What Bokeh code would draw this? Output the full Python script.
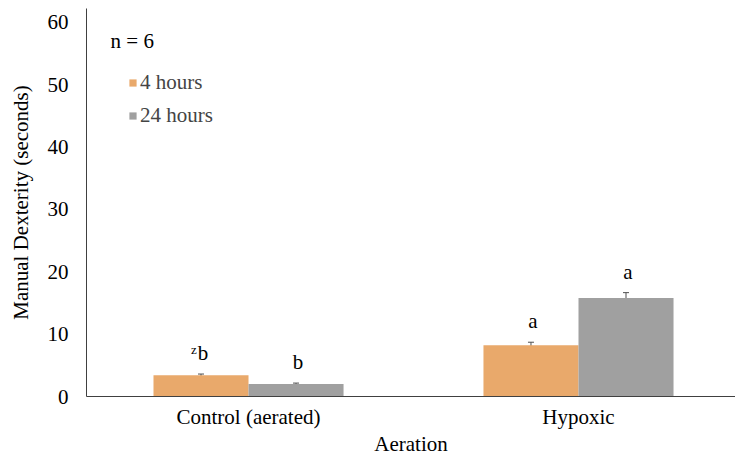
from bokeh.plotting import figure
from bokeh.models import (ColumnDataSource, Whisker, Range1d, FixedTicker, Label,
                          Legend, LegendItem, TeeHead)
from bokeh.embed import file_html
from bokeh.resources import INLINE
from bokeh.core.properties import value

# ---- data ----
categories = ["Control (aerated)", "Hypoxic"]
series = ["4 hours", "24 hours"]
hours4 = [3.4, 8.2]
hours24 = [2.0, 15.8]
err4 = [0.2, 0.5]
err24 = [0.15, 0.85]
letters4 = ["b", "a"]
letters24 = ["b", "a"]
sup4 = ["z", ""]
sup24 = ["", ""]
y_ticks = [0, 10, 20, 30, 40, 50, 60]
note = "n = 6"
y_title = "Manual Dexterity (seconds)"
x_title = "Aeration"

FONT = "Liberation Serif"
ORANGE = "#E9A96B"
GRAY = "#A0A0A0"
BW = 0.288

xc = [i + 1 for i in range(len(categories))]

p = figure(width=735, height=458, output_backend="svg", toolbar_location=None,
           x_range=Range1d(0.509, 2.4758), y_range=Range1d(0, 62.2),
           min_border_left=86, min_border_right=0, min_border_top=8, min_border_bottom=61)
p.outline_line_color = None
p.xgrid.grid_line_color = None
p.ygrid.grid_line_color = None
p.background_fill_color = "white"

def make_src(vals, errs, letters, sups, off):
    return ColumnDataSource(dict(
        x=[c + off for c in xc], top=vals,
        lower=[v - e for v, e in zip(vals, errs)],
        upper=[v + e for v, e in zip(vals, errs)],
        letter=letters, sup=sups))

s4 = make_src(hours4, err4, letters4, sup4, -BW / 2)
s24 = make_src(hours24, err24, letters24, sup24, BW / 2)

r4 = p.vbar(x="x", top="top", width=BW, source=s4, fill_color=ORANGE, line_color=None)
r24 = p.vbar(x="x", top="top", width=BW, source=s24, fill_color=GRAY, line_color=None)

for s in (s4, s24):
    w = Whisker(source=s, base="x", upper="upper", lower="lower",
                line_color="#505050", line_width=1,
                upper_head=TeeHead(size=6, line_color="#505050", line_width=1),
                lower_head=TeeHead(size=6, line_color="#505050", line_width=1))
    p.add_layout(w)
    p.text(x="x", y="upper", text="letter", source=s, text_align="center",
           text_baseline="bottom", y_offset=-9, x_offset=2,
           text_font=value(FONT), text_font_size="21px", text_color="black")
    p.text(x="x", y="upper", text="sup", source=s, text_align="center",
           text_baseline="bottom", y_offset=-17, x_offset=-7,
           text_font=value(FONT), text_font_size="13px", text_color="black")

# axes
p.yaxis.ticker = FixedTicker(ticks=y_ticks)
p.yaxis.axis_label = y_title
p.xaxis.ticker = FixedTicker(ticks=xc)
p.xaxis.major_label_overrides = {c: n for c, n in zip(xc, categories)}
p.xaxis.axis_label = x_title
for ax in (p.xaxis[0], p.yaxis[0]):
    ax.major_tick_line_color = None
    ax.minor_tick_line_color = None
    ax.major_tick_out = 0
    ax.major_tick_in = 0
    ax.minor_tick_out = 0
    ax.axis_line_color = "#404040"
    ax.axis_line_width = 1
    ax.major_label_text_font = FONT
    ax.major_label_text_font_size = "21px"
    ax.major_label_text_color = "black"
    ax.axis_label_text_font = FONT
    ax.axis_label_text_font_size = "21px"
    ax.axis_label_text_font_style = "normal"
    ax.axis_label_text_color = "black"
p.yaxis.major_label_standoff = 18
p.yaxis.axis_label_standoff = 12
p.xaxis.major_label_standoff = 8
p.xaxis.axis_label_standoff = 0

# note
p.add_layout(Label(x=0.582, y=57, text=note, text_baseline="middle",
                   text_font=FONT, text_font_size="21px", text_color="black"))

legend = Legend(items=[LegendItem(label=series[0], renderers=[r4]),
                       LegendItem(label=series[1], renderers=[r24])],
                location=(42, 268), orientation="vertical",
                glyph_width=9, glyph_height=9, label_standoff=3,
                label_text_font=FONT, label_text_font_size="21px",
                label_height=23, spacing=8, padding=0, margin=0,
                border_line_color=None, background_fill_alpha=0)
p.add_layout(legend)

open("out.html", "w").write(file_html(p, INLINE))
